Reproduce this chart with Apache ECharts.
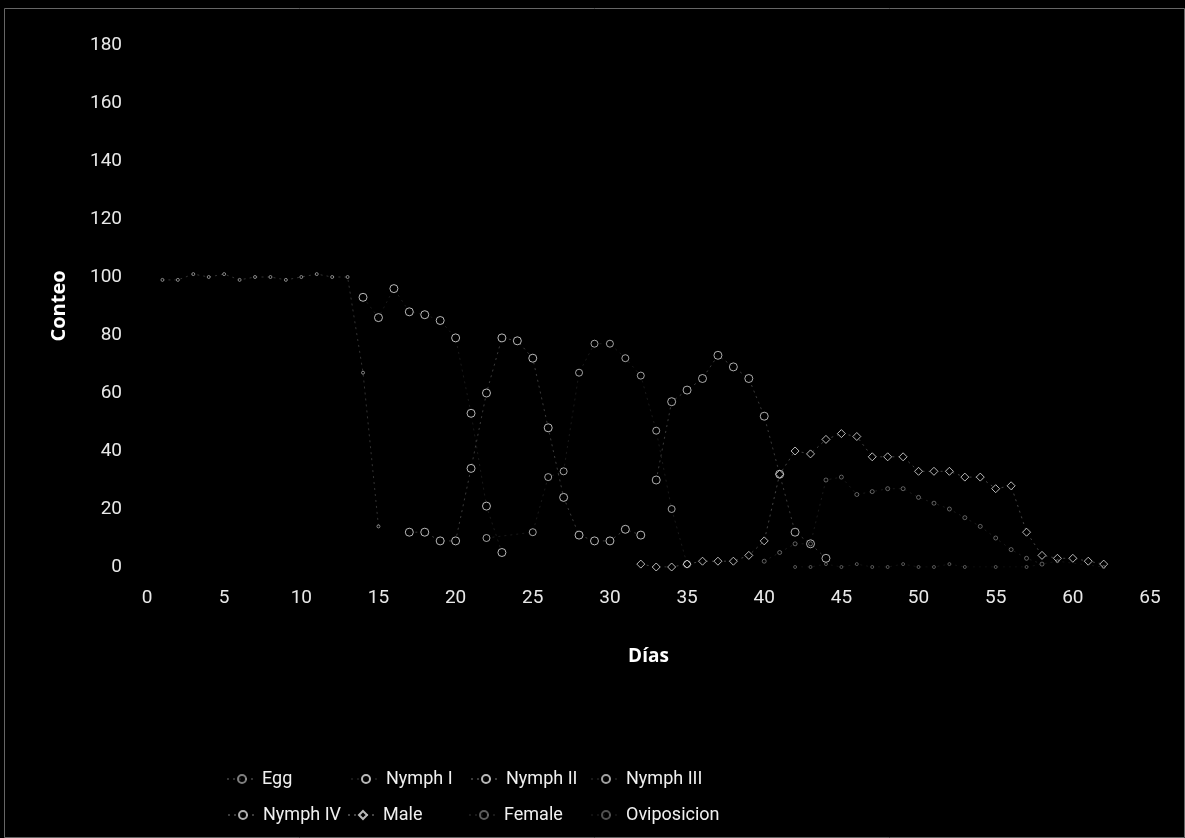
<!DOCTYPE html>
<html>
<head>
<meta charset="utf-8">
<script src="https://cdn.jsdelivr.net/npm/echarts@6/dist/echarts.min.js"></script>
<style>
html,body{margin:0;padding:0;background:#000;}
#chart{width:1185px;height:838px;}
</style>
</head>
<body>
<div id="chart"></div>
<script>
// ---- data ----
var xTicks = [0,5,10,15,20,25,30,35,40,45,50,55,60,65];
var yTicks = [0,20,40,60,80,100,120,140,160,180];

var seriesNames = ['Egg','Nymph I','Nymph II','Nymph III','Nymph IV','Male','Female','Oviposicion'];

var egg = [[1,99],[2,99],[3,101],[4,100],[5,101],[6,99],[7,100],[8,100],[9,99],[10,100],[11,101],[12,100],[13,100],[14,67],[15,14]];
var nymph1 = [[14,93],[15,86],[16,96],[17,88],[18,87],[19,85],[20,79],[21,53],[22,21],[23,5]];
var nymph2 = [[17,12],[18,12],[19,9],[20,9],[21,34],[22,60],[23,79],[24,78],[25,72],[26,48],[27,24],[28,11],[29,9],[30,9],[31,13],[32,11]];
var nymph3 = [[22,10],[25,12],[26,31],[27,33],[28,67],[29,77],[30,77],[31,72],[32,66],[33,47],[34,20],[35,1]];
var nymph4 = [[33,30],[34,57],[35,61],[36,65],[37,73],[38,69],[39,65],[40,52],[41,32],[42,12],[43,8],[44,3]];
var male = [[32,1],[33,0],[34,0],[35,1],[36,2],[37,2],[38,2],[39,4],[40,9],[41,32],[42,40],[43,39],[44,44],[45,46],[46,45],[47,38],[48,38],[49,38],[50,33],[51,33],[52,33],[53,31],[54,31],[55,27],[56,28],[57,12],[58,4],[59,3],[60,3],[61,2],[62,1]];
var female = [[40,2],[41,5],[42,8],[43,8],[44,30],[45,31],[46,25],[47,26],[48,27],[49,27],[50,24],[51,22],[52,20],[53,17],[54,14],[55,10],[56,6],[57,3],[58,1]];
var oviposicion = [[42,0],[43,0],[44,1],[45,0],[46,1],[47,0],[48,0],[49,1],[50,0],[51,0],[52,1],[53,0],[55,0],[57,0],[59,2],[62,0]];

var seriesData = [egg, nymph1, nymph2, nymph3, nymph4, male, female, oviposicion];

// ---- styles ----
var symbols = ['circle','circle','circle','circle','circle','diamond','circle','circle'];
var symbolSizes = [3,8,8,7,8,8,4,3];
var lineOpacity = [0.3,0.15,0.35,0.15,0.35,0.4,0.15,0.1];
var markOpacity = [0.55,0.8,0.8,0.7,0.75,0.8,0.4,0.35];

var font = "Roboto,'Liberation Sans',sans-serif";

var series = seriesNames.map(function(n,i){
  return {
    name:n, type:'line', data:seriesData[i],
    symbol:symbols[i], symbolSize:symbolSizes[i], showSymbol:true,
    lineStyle:{color:'#aaaaaa', width:1, type:[2,4], opacity:lineOpacity[i]},
    itemStyle:{color:'#000', borderColor:'#e6e6e6', borderWidth:1, opacity:markOpacity[i]},
    emphasis:{disabled:true}, animation:false
  };
});

var legendPos = [[221,765],[345,765],[465,765],[585,765],[222,801],[342,801],[463,801],[585,801]];
var legends = seriesNames.map(function(n,i){
  return {data:[n], left:legendPos[i][0], top:legendPos[i][1], itemWidth:30, itemHeight:10, itemGap:5,
    textStyle:{color:'#f0f0f0', fontFamily:font, fontSize:18}, inactiveColor:'#444'};
});

var chart = echarts.init(document.getElementById('chart'), null, {renderer:'canvas'});
chart.setOption({
  backgroundColor:'#000',
  animation:false,
  graphic:[{type:'rect', shape:{x:4.5,y:8.5,width:1180,height:829}, style:{fill:'none', stroke:'#666', lineWidth:1}}],
  grid:{left:147, right:35, top:45, bottom:271, containLabel:false},
  legend:legends,
  xAxis:{type:'value', min:xTicks[0], max:xTicks[xTicks.length-1], interval:5,
    name:'Días', nameLocation:'middle', nameGap:80,
    nameTextStyle:{color:'#fff', fontFamily:"'Open Sans',sans-serif", fontWeight:'bold', fontSize:19},
    axisLine:{show:false}, axisTick:{show:false}, splitLine:{show:false},
    axisLabel:{color:'#e8e8e8', fontFamily:font, fontSize:19, margin:22}},
  yAxis:{type:'value', min:yTicks[0], max:yTicks[yTicks.length-1], interval:20,
    name:'Conteo', nameLocation:'middle', nameGap:78,
    nameTextStyle:{color:'#fff', fontFamily:"'Open Sans',sans-serif", fontWeight:'bold', fontSize:20},
    axisLine:{show:false}, axisTick:{show:false}, splitLine:{show:false},
    axisLabel:{color:'#e8e8e8', fontFamily:font, fontSize:19, margin:25}},
  series:series
});
</script>
</body>
</html>
